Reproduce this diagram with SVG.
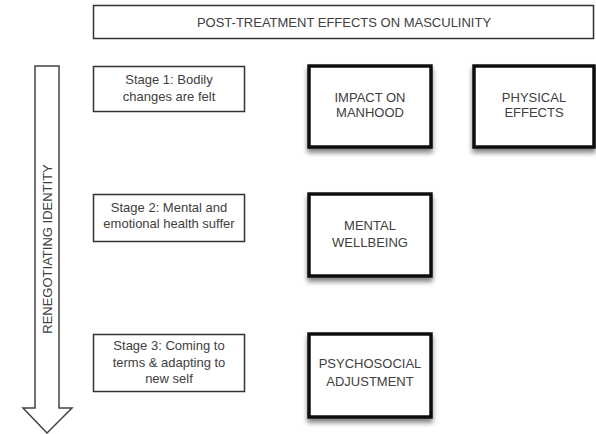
<svg xmlns="http://www.w3.org/2000/svg" width="596" height="434" viewBox="0 0 596 434">
<defs>
<style>
text{font-family:"Liberation Sans",Arial,sans-serif;font-size:13px;fill:#404040;text-anchor:middle;dominant-baseline:central}
.thin{fill:#fff;stroke:#333;stroke-width:1.5}
.thick{fill:#fff;stroke:#111;stroke-width:3.5}
</style>
<filter id="sh" x="-20%" y="-20%" width="140%" height="150%">
<feGaussianBlur in="SourceAlpha" stdDeviation="2.5"/>
<feOffset dx="0" dy="4" result="b"/>
<feComponentTransfer><feFuncA type="linear" slope="0.5"/></feComponentTransfer>
<feMerge><feMergeNode/><feMergeNode in="SourceGraphic"/></feMerge>
</filter>
</defs>
<rect width="596" height="434" fill="#fff"/>
<g id="title">
<rect class="thin" x="93.5" y="5.5" width="500" height="33"/>
<text x="344" y="22">POST-TREATMENT EFFECTS ON MASCULINITY</text>
</g>
<g id="connectors">
<polygon points="35,66 59,66 59,408 72,408 47,433 23,408 35,408" fill="#fff" stroke="#444" stroke-width="1.5"/>
<text transform="translate(47,249) rotate(-90)">RENEGOTIATING IDENTITY</text>
</g>
<g id="stage1">
<rect class="thin" x="93.5" y="66.5" width="151" height="45"/>
<text x="169" y="79">Stage 1: Bodily</text>
<text x="169" y="96">changes are felt</text>
</g>
<g id="stage2">
<rect class="thin" x="93.5" y="194.5" width="151" height="47"/>
<text x="169" y="207">Stage 2: Mental and</text>
<text x="169" y="223">emotional health suffer</text>
</g>
<g id="stage3">
<rect class="thin" x="93.5" y="334.5" width="151" height="57"/>
<text x="169" y="345">Stage 3: Coming to</text>
<text x="169" y="362">terms &amp; adapting to</text>
<text x="169" y="378">new self</text>
</g>
<g id="impact">
<rect class="thick" x="309" y="66" width="122" height="81" filter="url(#sh)"/>
<text x="370" y="97">IMPACT ON</text>
<text x="370" y="112">MANHOOD</text>
</g>
<g id="physical">
<rect class="thick" x="474" y="66" width="120" height="81" filter="url(#sh)"/>
<text x="534" y="97">PHYSICAL</text>
<text x="534" y="112">EFFECTS</text>
</g>
<g id="mental">
<rect class="thick" x="309" y="194" width="122" height="82" filter="url(#sh)"/>
<text x="370" y="225">MENTAL</text>
<text x="370" y="242">WELLBEING</text>
</g>
<g id="psychosocial">
<rect class="thick" x="309" y="334" width="122" height="83" filter="url(#sh)"/>
<text x="370" y="363">PSYCHOSOCIAL</text>
<text x="370" y="381">ADJUSTMENT</text>
</g>
</svg>
